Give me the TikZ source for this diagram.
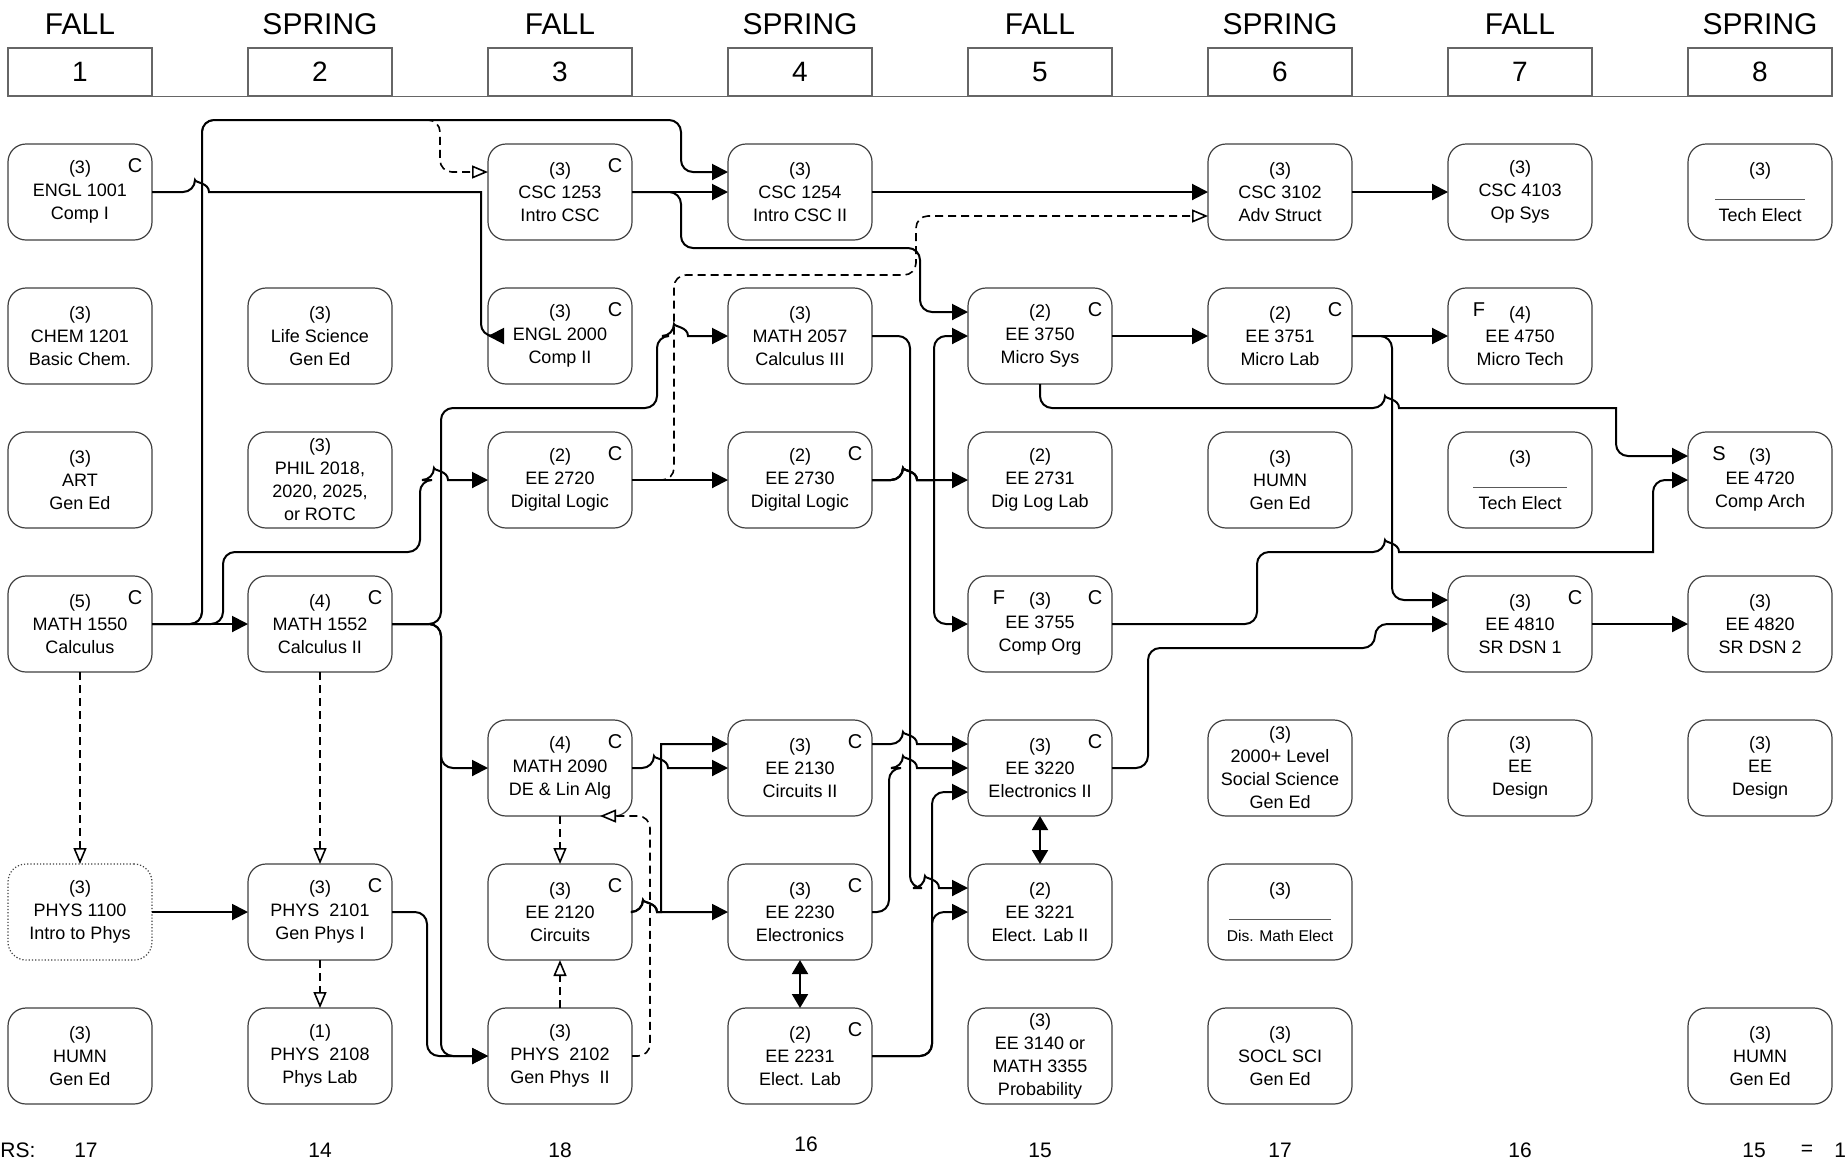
\documentclass[tikz,border=0pt]{standalone}
\usepackage{fontspec}
\setmainfont{Liberation Sans}
\usepackage{tikz}
\usepackage{tkz-graph}
\usetikzlibrary{arrows.meta}

\newcommand{\coursefont}{\fontsize{9}{11.5}\selectfont}
\protected\def\blank#1{\textcolor{black!65}{\rule[-1pt]{#1}{0.5pt}}}
\protected\def\smallline#1{{\fontsize{7.8}{9}\selectfont #1}}
\newcommand{\hop}{[sharp corners] .. controls +(0,-9.3) and +(0,-9.3) .. ++(14,0)}
\newcommand{\Cmark}[1]{\node[cmark] (#1c) at ([xshift=-8.5pt,yshift=-11pt]#1.north east) {C};}
\newcommand{\Lmark}[2]{\node[cmark] (#1m) at ([xshift=15.5pt,yshift=-11pt]#1.north west) {#2};}

\tikzset{
  link/.style={line width=1pt, rounded corners=6pt, -{Triangle[length=8pt,width=8pt]}},
  prereq/.style={line width=0.8pt, dash pattern=on 4pt off 2.5pt, rounded corners=6pt,
    -{Triangle[open,length=8pt,width=6.5pt,fill=white]}},
  twoway/.style={line width=1pt, {Triangle[length=7pt,width=8pt]}-{Triangle[length=7pt,width=8pt]}},
  cmark/.style={font=\fontsize{10}{12}\selectfont, inner sep=0pt},
  semtitle/.style={font=\fontsize{15}{18}\selectfont, inner sep=0pt},
  sembox/.style={draw=black!60, line width=0.6pt, minimum width=72pt, minimum height=24pt,
    inner sep=0pt, font=\fontsize{14}{16}\selectfont},
  credit/.style={font=\fontsize{10.5}{12}\selectfont, inner sep=0pt}
}

\begin{document}
\begin{tikzpicture}[x=0.5pt,y=-0.5pt]
\useasboundingbox (0,0) rectangle (1845,1163);
\GraphInit[vstyle=Normal]
\SetVertexNormal[Shape = rectangle, LineWidth = 0.6pt]
\tikzset{VertexStyle/.append style={rounded corners=9pt, minimum width=72pt, minimum height=48pt,
  inner sep=0pt, outer sep=0pt, align=center, font=\coursefont, draw=black!75, fill=white, text=black}}
\tikzset{LabelStyle/.style={draw=none, fill=none, inner sep=0pt}}

\foreach \t [count=\i] in {FALL,SPRING,FALL,SPRING,FALL,SPRING,FALL,SPRING}{
  \node[semtitle] (title\i) at (240*\i-160,24) {\t};
  \node[sembox] (sem\i) at (240*\i-160,72) {\i};
}
\draw[black!60, line width=0.6pt] (sem1.south west) -- (sem8.south east);

\Vertex[x=80,y=192,L={(3)\\ENGL 1001\\Comp I}]{e1001}
\Vertex[x=560,y=192,L={(3)\\CSC 1253\\Intro CSC}]{c1253}
\Vertex[x=800,y=192,L={(3)\\CSC 1254\\Intro CSC II}]{c1254}
\Vertex[x=1280,y=192,L={(3)\\CSC 3102\\Adv Struct}]{c3102}
\Vertex[x=1520,y=192,L={(3)\\CSC 4103\\Op Sys}]{c4103}
\Vertex[x=1760,y=192,L={(3)\\\blank{45pt}\\Tech Elect}]{tech8}
\Vertex[x=80,y=336,L={(3)\\CHEM 1201\\Basic Chem.}]{ch1201}
\Vertex[x=320,y=336,L={(3)\\Life Science\\Gen Ed}]{life}
\Vertex[x=560,y=336,L={(3)\\ENGL 2000\\Comp II}]{e2000}
\Vertex[x=800,y=336,L={(3)\\MATH 2057\\Calculus III}]{m2057}
\Vertex[x=1040,y=336,L={(2)\\EE 3750\\Micro Sys}]{ee3750}
\Vertex[x=1280,y=336,L={(2)\\EE 3751\\Micro Lab}]{ee3751}
\Vertex[x=1520,y=336,L={(4)\\EE 4750\\Micro Tech}]{ee4750}
\Vertex[x=80,y=480,L={(3)\\ART\\Gen Ed}]{art}
\Vertex[x=320,y=480,L={(3)\\PHIL 2018,\\2020, 2025,\\or ROTC}]{phil}
\Vertex[x=560,y=480,L={(2)\\EE 2720\\Digital Logic}]{ee2720}
\Vertex[x=800,y=480,L={(2)\\EE 2730\\Digital Logic}]{ee2730}
\Vertex[x=1040,y=480,L={(2)\\EE 2731\\Dig Log Lab}]{ee2731}
\Vertex[x=1280,y=480,L={(3)\\HUMN\\Gen Ed}]{humn6}
\Vertex[x=1520,y=480,L={(3)\\\blank{47pt}\\Tech Elect}]{tech7}
\Vertex[x=1760,y=480,L={(3)\\EE 4720\\Comp Arch}]{ee4720}
\Vertex[x=80,y=624,L={(5)\\MATH 1550\\Calculus}]{m1550}
\Vertex[x=320,y=624,L={(4)\\MATH 1552\\Calculus II}]{m1552}
\Vertex[x=1040,y=624,L={(3)\\EE 3755\\Comp Org}]{ee3755}
\Vertex[x=1520,y=624,L={(3)\\EE 4810\\SR DSN 1}]{ee4810}
\Vertex[x=1760,y=624,L={(3)\\EE 4820\\SR DSN 2}]{ee4820}
\Vertex[x=560,y=768,L={(4)\\MATH 2090\\DE \& Lin Alg}]{m2090}
\Vertex[x=800,y=768,L={(3)\\EE 2130\\Circuits II}]{ee2130}
\Vertex[x=1040,y=768,L={(3)\\EE 3220\\Electronics II}]{ee3220}
\Vertex[x=1280,y=768,L={(3)\\2000+ Level\\Social Science\\Gen Ed}]{soc6}
\Vertex[x=1520,y=768,L={(3)\\EE\\Design}]{des7}
\Vertex[x=1760,y=768,L={(3)\\EE\\Design}]{des8}
\begin{scope}[VertexStyle/.append style={densely dotted}]
\Vertex[x=80,y=912,L={(3)\\PHYS 1100\\Intro to Phys}]{p1100}
\end{scope}
\Vertex[x=320,y=912,L={(3)\\PHYS\ \ 2101\\Gen Phys I}]{p2101}
\Vertex[x=560,y=912,L={(3)\\EE 2120\\Circuits}]{ee2120}
\Vertex[x=800,y=912,L={(3)\\EE 2230\\Electronics}]{ee2230}
\Vertex[x=1040,y=912,L={(2)\\EE 3221\\Elect. Lab II}]{ee3221}
\Vertex[x=1280,y=912,L={(3)\\\blank{51pt}\\\smallline{Dis. Math Elect}}]{dmath}
\Vertex[x=80,y=1056,L={(3)\\HUMN\\Gen Ed}]{humn1}
\Vertex[x=320,y=1056,L={(1)\\PHYS\ \ 2108\\Phys Lab}]{p2108}
\Vertex[x=560,y=1056,L={(3)\\PHYS\ \ 2102\\Gen Phys\ \ II}]{p2102}
\Vertex[x=800,y=1056,L={(2)\\EE 2231\\Elect. Lab}]{ee2231}
\Vertex[x=1040,y=1056,L={(3)\\EE 3140 or\\MATH 3355\\Probability}]{prob}
\Vertex[x=1280,y=1056,L={(3)\\SOCL SCI\\Gen Ed}]{socl}
\Vertex[x=1760,y=1056,L={(3)\\HUMN\\Gen Ed}]{humn8}

\foreach \v in {e1001,c1253,e2000,ee3750,ee3751,ee2720,ee2730,m1550,m1552,ee3755,ee4810,
  m2090,ee2130,ee3220,p2101,ee2120,ee2230,ee2231}{\Cmark{\v}}
\Lmark{ee3755}{F}
\Lmark{ee4750}{F}
\Lmark{ee4720}{S}

\tikzset{EdgeStyle/.style={link}}
\Edge(m1550)(m1552)
\Edge(p1100)(p2101)
\Edge(c1253)(c1254)
\Edge(c1254)(c3102)
\Edge(c3102)(c4103)
\Edge(ee3750)(ee3751)
\Edge(ee3751)(ee4750)
\Edge(ee4810)(ee4820)
\Edge(ee2720)(ee2730)
\tikzset{EdgeStyle/.style={prereq}}
\Edge(m1550)(p1100)
\Edge(m1552)(p2101)
\Edge(p2101)(p2108)
\Edge(m2090)(ee2120)
\Edge(p2102)(ee2120)
\tikzset{EdgeStyle/.style={twoway}}
\Edge(ee2230)(ee2231)
\Edge(ee3220)(ee3221)

\draw[link] (e1001.east) -- (195,192) \hop -- (481,192) [rounded corners=6pt] -- (481,336) [sharp corners] -- (e2000.west);
\draw[link] (m1550.east) -- (202,624) -- (202,120) -- (681,120) -- (681,172) -- ([yshift=10pt]c1254.west);
\draw[prereq] (m1550.east) -- (202,624) -- (202,120) -- (440,120) -- (440,172) -- ([yshift=10pt]c1253.west);
\draw[link] (m1550.east) -- (223,624) -- (223,552) -- (420,552) -- (420,480) -- (434,480) \hop -- (ee2720.west);
\draw[link] (m1552.east) -- (441,624) -- (441,408) -- (657,408) -- (657,336) -- (674,336) \hop -- (m2057.west);
\draw[link] (m1552.east) -- (441,624) -- (441,768) -- (m2090.west);
\draw[link] (m1552.east) -- (441,624) -- (441,1056) -- (p2102.west);
\draw[link] (p2101.east) -- (427,912) -- (427,1056) -- (p2102.west);
\draw[link] (c1253.east) -- (681,192) -- (681,248) -- (920,248) -- (920,312) -- ([yshift=12pt]ee3750.west);
\draw[prereq] (ee2720.east) -- (674,480) -- (674,275) -- (916,275) -- (916,216) -- ([yshift=-12pt]c3102.west);
\draw[link] (ee2730.east) -- (903,480) \hop -- (934,480) [rounded corners=6pt] -- (934,336) -- (ee3750.west);
\draw[link] (ee2730.east) -- (903,480) \hop -- (ee2731.west);
\draw[link] (ee2730.east) -- (903,480) \hop -- (934,480) [rounded corners=6pt] -- (934,624) -- (ee3755.west);
\draw[link] (m2057.east) -- (910,336) -- (910,888) -- (925,888) \hop -- ([yshift=12pt]ee3221.west);
\draw[link] (ee2231.east) -- (932,1056) -- (932,912) -- (ee3221.west);
\draw[link] (ee2231.east) -- (932,1056) -- (932,792) -- ([yshift=-12pt]ee3220.west);
\draw[link] ([yshift=12pt]ee2130.east) -- (903,744) \hop -- ([yshift=12pt]ee3220.west);
\draw[link] (ee2230.east) -- (889,912) -- (889,768) -- (903,768) \hop -- (ee3220.west);
\draw[link] (ee2120.east) -- (643,912) \hop -- (ee2230.west);
\draw[link] (ee2120.east) -- (643,912) \hop -- (661,912) -- (661,744) [rounded corners=6pt] -- ([yshift=12pt]ee2130.west);
\draw[link] (m2090.east) -- (654,768) \hop -- (ee2130.west);
\draw[prereq] (p2102.east) -- (650,1056) -- (650,816) -- ([xshift=20pt]m2090.south);
\draw[link] (ee3750.south) -- (1040,408) -- (1385,408) \hop -- (1616,408) [rounded corners=6pt] -- (1616,456) -- ([yshift=12pt]ee4720.west);
\draw[link] (ee3755.east) -- (1257,624) -- (1257,552) -- (1385,552) \hop -- (1653,552) [rounded corners=6pt] -- (1653,480) -- (ee4720.west);
\draw[link] (ee3751.east) -- (1392,336) -- (1392,600) -- ([yshift=12pt]ee4810.west);
\draw[link] (ee3220.east) -- (1148,768) -- (1148,648) -- (1375,648) -- (1375,624) -- (ee4810.west);

\node[credit,anchor=west] (hrslabel) at (0,1150) {RS:};
\foreach \x/\y/\n [count=\i] in {86/1150/17,320/1150/14,560/1150/18,806/1144/16,
  1040/1150/15,1280/1150/17,1520/1150/16,1754/1150/15}
  \node[credit] (hrs\i) at (\x,\y) {\n};
\node[credit] (hrseq) at (1807,1150) {=};
\node[credit,anchor=west] (hrstot) at (1834,1150) {1};
\end{tikzpicture}
\end{document}
